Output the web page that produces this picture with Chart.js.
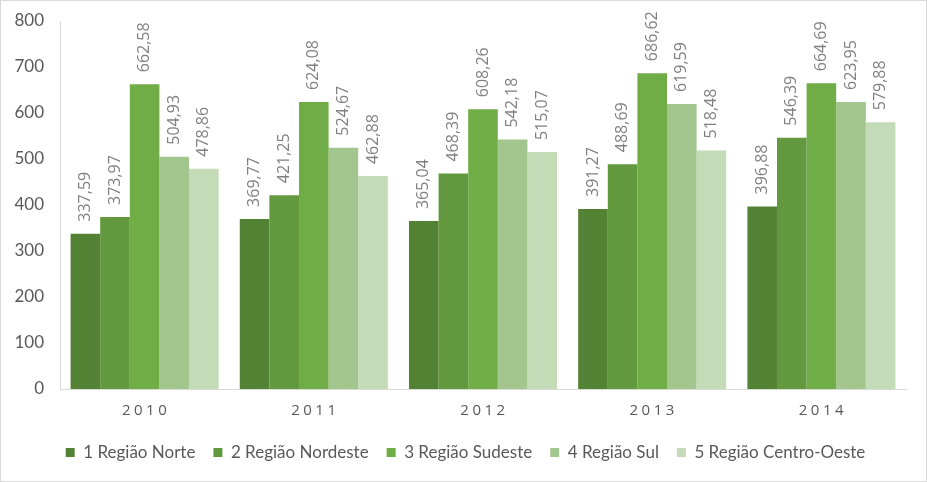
<!DOCTYPE html>
<html>
<head>
<meta charset="utf-8">
<script src="https://cdn.jsdelivr.net/npm/chart.js@4/dist/chart.umd.min.js"></script>
<style>
  html, body { margin: 0; padding: 0; background: #fff; }
  #wrap { width: 925px; height: 480px; border: 1px solid #d9d9d9; position: relative; }
  canvas { display: block; }
</style>
</head>
<body>
<div id="wrap"><canvas id="chart" width="925" height="480"></canvas></div>
<script>
const years = ['2010', '2011', '2012', '2013', '2014'];
const regions = ['1 Região Norte', '2 Região Nordeste', '3 Região Sudeste', '4 Região Sul', '5 Região Centro-Oeste'];
const norte = [337.59, 369.77, 365.04, 391.27, 396.88];
const nordeste = [373.97, 421.25, 468.39, 488.69, 546.39];
const sudeste = [662.58, 624.08, 608.26, 686.62, 664.69];
const sul = [504.93, 524.67, 542.18, 619.59, 623.95];
const centroOeste = [478.86, 462.88, 515.07, 518.48, 579.88];
const colors = ['#548235', '#62993e', '#70ad47', '#a2c68e', '#c4dbb8'];

const seriesValues = [norte, nordeste, sudeste, sul, centroOeste];

// data labels, rotated, above each bar
const barLabels = {
    id: 'barLabels',
    afterDatasetsDraw(chart) {
        const ctx = chart.ctx;
        ctx.save();
        ctx.font = '16px "Open Sans", sans-serif';
        ctx.fillStyle = '#808080';
        ctx.textAlign = 'left';
        ctx.textBaseline = 'middle';
        chart.data.datasets.forEach((ds, i) => {
            chart.getDatasetMeta(i).data.forEach((bar, j) => {
                const txt = ds.data[j].toFixed(2).replace('.', ',');
                ctx.save();
                ctx.translate(bar.x, bar.y - 12);
                ctx.rotate(-Math.PI / 2);
                ctx.fillText(txt, 0, 0);
                ctx.restore();
            });
        });
        ctx.restore();
    }
};

// x labels with letter spacing
const yearLabels = {
    id: 'yearLabels',
    afterDraw(chart) {
        const ctx = chart.ctx;
        const xs = chart.scales.x;
        ctx.save();
        ctx.font = '15px "Open Sans", sans-serif';
        ctx.fillStyle = '#595959';
        ctx.letterSpacing = '3.5px';
        ctx.textAlign = 'center';
        ctx.textBaseline = 'middle';
        years.forEach((y, i) => {
            ctx.fillText(y, xs.getPixelForValue(i) + 1.5, chart.chartArea.bottom + 22);
        });
        ctx.restore();
    }
};

// nudge legend to the right, like the original
const legendShift = {
    id: 'legendShift',
    afterLayout(chart) {
        chart.legend.left += 12;
        chart.legend.right += 12;
    }
};

new Chart(document.getElementById('chart'), {
    type: 'bar',
    data: {
        labels: years,
        datasets: regions.map((r, i) => ({
            label: r,
            data: seriesValues[i],
            backgroundColor: colors[i],
            borderWidth: 0,
            barPercentage: 1,
            categoryPercentage: 0.875
        }))
    },
    options: {
        responsive: false,
        animation: false,
        layout: { padding: { top: 20, right: 20, left: 0, bottom: 10 } },
        plugins: {
            tooltip: { enabled: false },
            legend: {
                position: 'bottom',
                labels: {
                    boxWidth: 9,
                    boxHeight: 9,
                    padding: 18,
                    color: '#595959',
                    font: { size: 17, family: 'Lato' }
                }
            }
        },
        scales: {
            x: {
                grid: { display: false },
                border: { color: '#d9d9d9' },
                ticks: { display: false },
                afterFit(scale) { scale.height = 37; }
            },
            y: {
                min: 0,
                max: 800,
                ticks: {
                    stepSize: 100,
                    color: '#595959',
                    padding: 8,
                    font: { size: 17, family: 'Lato' }
                },
                grid: { display: false },
                border: { color: '#d9d9d9' },
                afterFit(scale) { scale.width = 59; }
            }
        }
    },
    plugins: [barLabels, yearLabels, legendShift]
});
</script>
</body>
</html>
